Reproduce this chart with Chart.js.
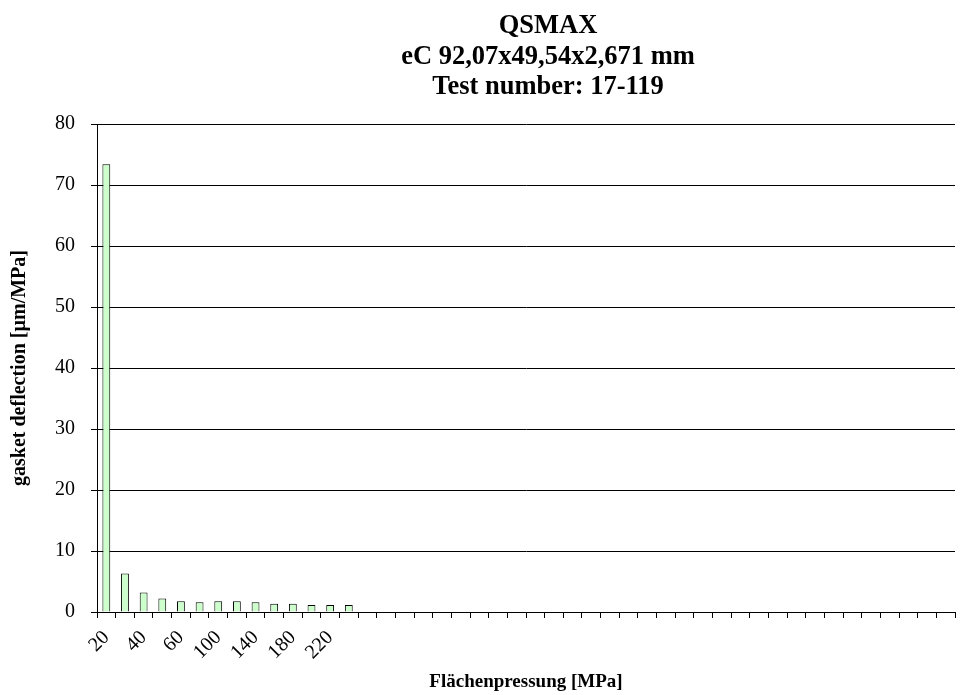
<!DOCTYPE html>
<html>
<head>
<meta charset="utf-8">
<script src="https://cdn.jsdelivr.net/npm/chart.js@4/dist/chart.umd.min.js"></script>
<style>
  html, body { margin: 0; padding: 0; background: #fff; }
  #wrap { position: relative; width: 961px; height: 695px; }
  #title {
    position: absolute; left: 348px; width: 400px; top: 9px;
    text-align: center; font-family: "Liberation Serif", "Times New Roman", serif;
    font-weight: bold; font-size: 26.5px; line-height: 30.5px; color: #000;
  }
  canvas { position: absolute; left: 0; top: 0; }
</style>
</head>
<body>
<div id="wrap">
  <canvas id="c" width="961" height="695"></canvas>
  <div id="title">QSMAX<br>eC 92,07x49,54x2,671 mm<br>Test number: 17-119</div>
</div>
<script>
// Surface pressure steps [MPa]; the axis continues with empty slots to the right
const pressures = ['20', '30', '40', '50', '60', '80', '100', '120', '140', '160', '180', '200', '220', '240'];
const emptySlots = 32;
const categories = pressures.concat(Array(emptySlots).fill(''));

// Gasket deflection per MPa step [µm/MPa]
const deflection = [73.4, 6.3, 3.2, 2.2, 1.75, 1.6, 1.75, 1.75, 1.6, 1.35, 1.35, 1.15, 1.15, 1.15];

const yTicks = { min: 0, max: 80, step: 10 };

const serif = '"Liberation Serif", "Times New Roman", serif';

new Chart(document.getElementById('c'), {
  type: 'bar',
  data: {
    labels: categories,
    datasets: [{
      data: deflection,
      backgroundColor: '#ccffcc',
      borderColor: '#000000',
      borderWidth: 1,
      barPercentage: 0.42,
      categoryPercentage: 1.0
    }]
  },
  options: {
    responsive: false,
    animation: false,
    layout: { padding: { top: 124, right: 6, bottom: 0, left: 8 } },
    plugins: {
      legend: { display: false },
      tooltip: { enabled: false }
    },
    scales: {
      x: {
        offset: true,
        grid: {
          display: true,
          offset: true,
          drawOnChartArea: false,
          drawTicks: true,
          tickLength: 6,
          color: '#000000'
        },
        border: { display: true, color: '#000000', width: 1 },
        ticks: {
          autoSkip: false,
          maxRotation: 45,
          minRotation: 45,
          padding: 8,
          color: '#000000',
          font: { family: serif, size: 20 },
          callback: function (value, index) {
            return index % 2 === 0 ? categories[index] : '';
          }
        },
        title: {
          display: true,
          text: 'Flächenpressung [MPa]',
          color: '#000000',
          font: { family: serif, size: 19, weight: 'bold' },
          padding: { top: 0, bottom: 2 }
        },
        afterFit: function (scale) {
          scale.height = 83;
          scale.paddingLeft = 0;
          scale.paddingRight = 0;
        }
      },
      y: {
        min: yTicks.min,
        max: yTicks.max,
        grid: {
          color: '#000000',
          lineWidth: 1,
          drawTicks: true,
          tickLength: 6
        },
        border: { display: true, color: '#000000', width: 1 },
        ticks: {
          stepSize: yTicks.step,
          padding: 16,
          color: '#000000',
          font: { family: serif, size: 20 }
        },
        title: {
          display: true,
          text: 'gasket deflection [µm/MPa]',
          color: '#000000',
          font: { family: serif, size: 20, weight: 'bold' },
          padding: { top: 0, bottom: 0 }
        },
        afterFit: function (scale) { scale.width = 89; }
      }
    }
  }
});
</script>
</body>
</html>
